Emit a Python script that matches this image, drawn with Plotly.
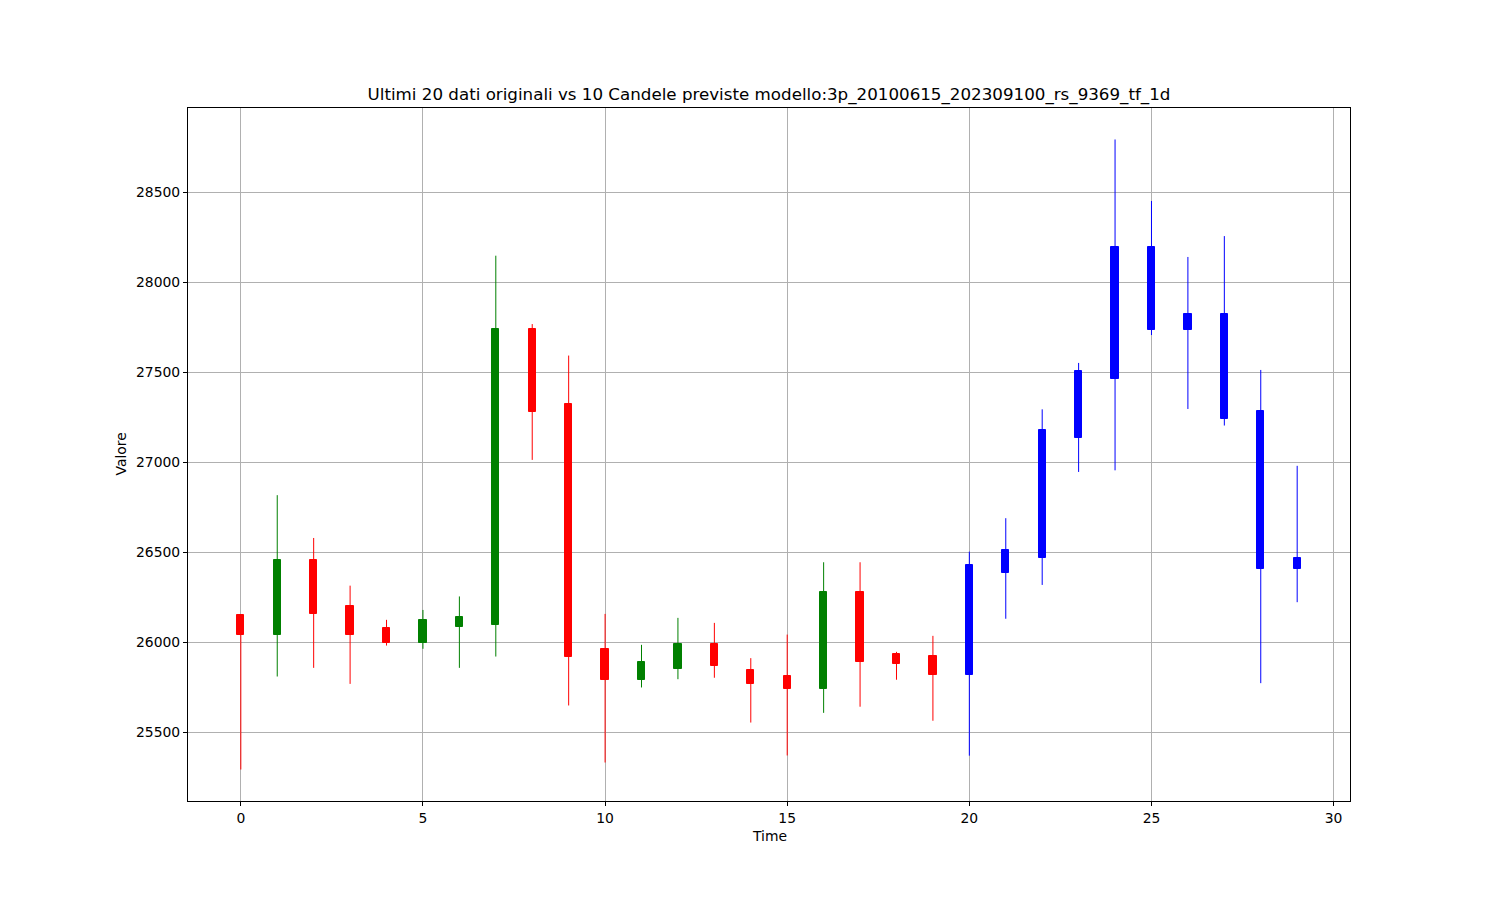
import plotly.graph_objects as go

# ---- data ----
times = list(range(30))
opens = [26152, 26037, 26457, 26203, 26079, 25996, 26083, 26098, 27741, 27324,
         25963, 25787, 25848, 25991, 25846, 25813, 25737, 26278, 25935, 25924,
         25818, 26385, 26468, 27135, 27463, 28196, 27824, 27824, 27283, 26466]
highs = [26152, 26817, 26579, 26314, 26124, 26179, 26254, 28148, 27768, 27593,
         26157, 25985, 26135, 26107, 25911, 26042, 26444, 26444, 25946, 26035,
         26503, 26689, 27294, 27552, 28794, 28452, 28141, 28257, 27513, 26980]
lows = [25292, 25809, 25857, 25768, 25981, 25963, 25857, 25920, 27013, 25648,
        25331, 25748, 25794, 25802, 25553, 25370, 25607, 25641, 25791, 25563,
        25369, 26130, 26318, 26946, 26955, 27707, 27296, 27204, 25772, 26222]
closes = [26037, 26457, 26157, 26037, 25996, 26124, 26141, 27741, 27281, 25920,
          25787, 25891, 25991, 25870, 25770, 25737, 26278, 25892, 25880, 25820,
          26430, 26513, 27179, 27507, 28196, 27735, 27735, 27241, 26407, 26407]
n_original = 20

x_ticks = [0, 5, 10, 15, 20, 25, 30]
y_ticks = [25500, 26000, 26500, 27000, 27500, 28000, 28500]

title_text = "Ultimi 20 dati originali vs 10 Candele previste modello:3p_20100615_202309100_rs_9369_tf_1d"

# ---- colours per candle ----
colors = []
for i, (o, c) in enumerate(zip(opens, closes)):
    if i >= n_original:
        colors.append("#0000ff")
    elif c >= o:
        colors.append("#008000")
    else:
        colors.append("#ff0000")

fig = go.Figure()

# wicks, grouped by colour
for col in ["#ff0000", "#008000", "#0000ff"]:
    wx, wy = [], []
    for t, h, l, cc in zip(times, highs, lows, colors):
        if cc == col:
            wx += [t, t, None]
            wy += [l, h, None]
    fig.add_trace(go.Scatter(x=wx, y=wy, mode="lines",
                             line=dict(color=col, width=1),
                             hoverinfo="skip", showlegend=False))

# bodies
bases = [min(o, c) for o, c in zip(opens, closes)]
heights = [abs(c - o) for o, c in zip(opens, closes)]
fig.add_trace(go.Bar(x=times, y=heights, base=bases, width=0.2,
                     marker=dict(color=colors, line=dict(color=colors, width=1)),
                     showlegend=False))

font_family = "DejaVu Sans"
axis_common = dict(showgrid=True, gridcolor="#b0b0b0", gridwidth=1,
                   showline=True, linecolor="black", linewidth=1, mirror=True,
                   ticks="outside", ticklen=4, tickcolor="black", tickwidth=1,
                   zeroline=False, tickformat="d",
                   tickfont=dict(family=font_family, size=13.9, color="black"))

# page has an 8px body margin; figure placed at (8, 8)
W, H = 1484, 884
off = 8
plot_l, plot_r, plot_t, plot_b = 188, 1350, 108, 801

fig.update_layout(
    width=W, height=H,
    margin=dict(l=plot_l - off, r=W + off - plot_r, t=plot_t - off, b=H + off - plot_b),
    paper_bgcolor="white", plot_bgcolor="white",
    showlegend=False,
    bargap=0,
    title=dict(text=title_text, x=(769 - off) / W, xanchor="center",
               y=1 - (94 - off) / H, yanchor="middle", yref="container",
               font=dict(family=font_family, size=16.7, color="black")),
    xaxis=dict(range=[-1.45, 30.45], tickvals=x_ticks, **axis_common),
    yaxis=dict(range=[25117, 28969], tickvals=y_ticks, **axis_common),
    annotations=[
        dict(text="Time", xref="paper", yref="paper", x=0.5, y=(plot_b - 836) / (plot_b - plot_t),
             xanchor="center", yanchor="middle", showarrow=False,
             font=dict(family=font_family, size=13.9, color="black")),
        dict(text="Valore", xref="paper", yref="paper", x=(120 - plot_l) / (plot_r - plot_l), y=0.5,
             xanchor="center", yanchor="middle", showarrow=False, textangle=-90,
             font=dict(family=font_family, size=13.9, color="black")),
    ],
)

fig.write_html("out.html")
